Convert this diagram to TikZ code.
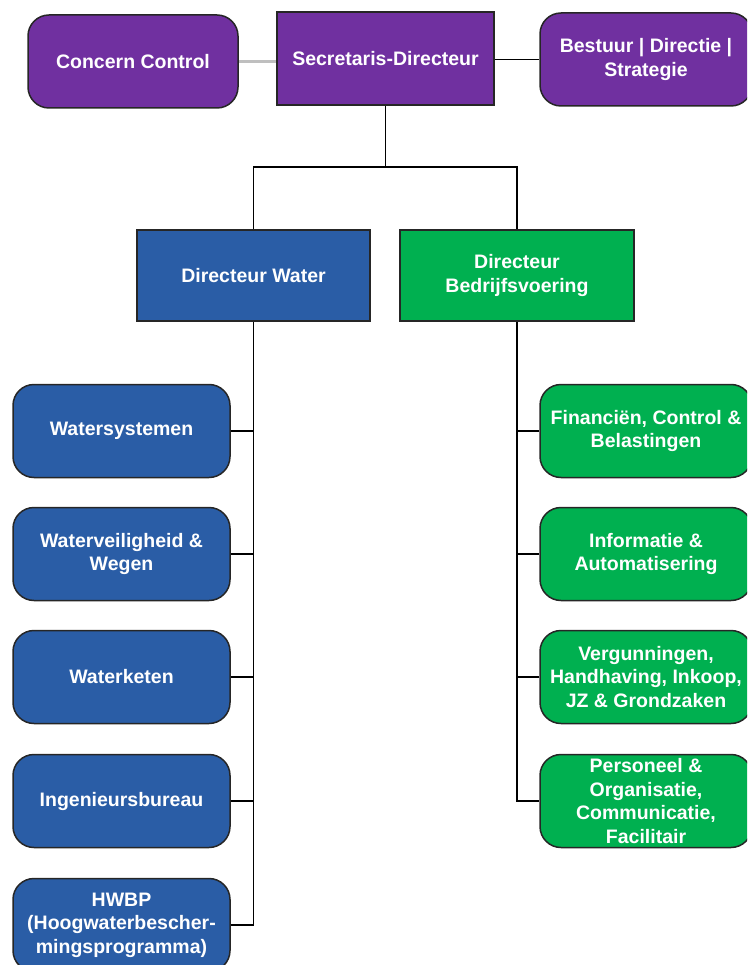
\documentclass[tikz,border=0pt]{standalone}
\usepackage{fontspec}
\setmainfont{Liberation Sans}
\usepackage{xcolor}
\usepackage{tikz}
\definecolor{orgpurple}{HTML}{7030A0}
\definecolor{orgblue}{HTML}{2A5DA6}
\definecolor{orggreen}{HTML}{00B050}
\tikzset{
    box/.style={draw=black!85, line width=1.5pt, text=white, align=center,
        font=\fontsize{19.5}{23.5}\selectfont\bfseries, inner sep=0pt},
    head/.style={box, rectangle, minimum width=217pt, minimum height=93pt},
    unit/.style={box, rounded corners=21pt, minimum width=212pt, minimum height=93pt},
    link/.style={draw=black, line width=1.5pt}
}
\begin{document}
\begin{tikzpicture}[x=1pt, y=-1pt]
		\path[use as bounding box, clip] (0,0) rectangle (747,965);

		\node[unit, fill=orgpurple, minimum width=210pt] (cc) at (133,61.5) {Concern Control};
		\node[head, fill=orgpurple] (sd) at (385.5,58.5) {Secretaris-Directeur};
		\node[unit, fill=orgpurple] (bds) at (646,59.5) {Bestuur | Directie |\\Strategie};

		\node[head, fill=orgblue, minimum width=233pt, minimum height=91pt] (dw) at (253.5,275.5) {Directeur Water};
		\node[head, fill=orggreen, minimum width=234pt, minimum height=91pt] (db) at (517,275.5) {Directeur\\Bedrijfsvoering};

		\node[unit, fill=orgblue, minimum width=217pt] (ws) at (121.5,431) {Watersystemen};
		\node[unit, fill=orgblue, minimum width=217pt] (wv) at (121.5,554) {Waterveiligheid \&\\Wegen};
		\node[unit, fill=orgblue, minimum width=217pt] (wk) at (121.5,677) {Waterketen};
		\node[unit, fill=orgblue, minimum width=217pt] (ib) at (121.5,801) {Ingenieursbureau};
		\node[unit, fill=orgblue, minimum width=217pt] (hwbp) at (121.5,925) {HWBP\\(Hoogwaterbescher-\\mingsprogramma)};

		\node[unit, fill=orggreen] (fcb) at (646,431) {Financiën, Control \&\\Belastingen};
		\node[unit, fill=orggreen] (ia) at (646,554) {Informatie \&\\Automatisering};
		\node[unit, fill=orggreen] (vhi) at (646,677) {Vergunningen,\\Handhaving, Inkoop,\\JZ \& Grondzaken};
		\node[unit, fill=orggreen] (po) at (646,801) {Personeel \&\\Organisatie,\\Communicatie,\\Facilitair};

		% lines
		\draw[draw=black!25, line width=3pt] (cc.east) -- (sd.west |- cc.east);
		\draw[link] (sd.east |- bds.west) -- (bds.west);
		\coordinate (fork) at (385.5,167);
		\draw[link] (sd.south) -- (fork);
		\draw[link] (dw.north) |- (fork) -| (db.north);

		\draw[link] (dw.south) |- (hwbp.east);
		\foreach \n in {ws,wv,wk,ib}
			\draw[link] (\n.east) -- (\n.east -| dw.south);
		\draw[link] (db.south) |- (po.west);
		\foreach \n in {fcb,ia,vhi}
			\draw[link] (\n.west) -- (\n.west -| db.south);
    \end{tikzpicture}
\end{document}
